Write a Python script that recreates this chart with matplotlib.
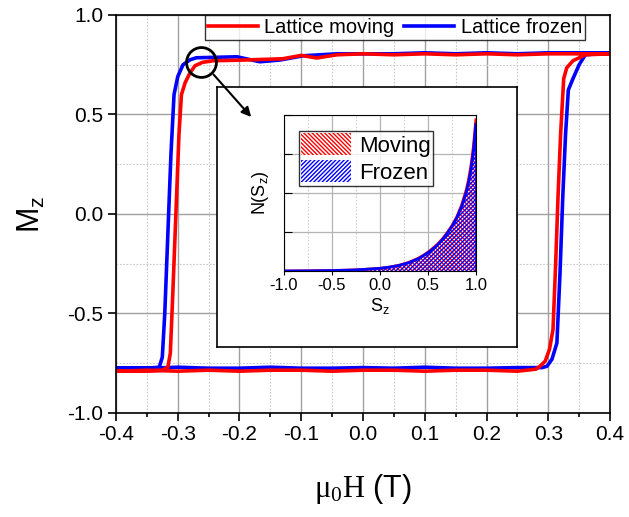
import matplotlib
matplotlib.use('Agg')
import matplotlib.pyplot as plt
import numpy as np
from matplotlib.ticker import MultipleLocator, NullFormatter
from matplotlib.patches import FancyArrowPatch

plt.rcParams['font.family'] = ['Liberation Sans', 'DejaVu Sans']
plt.rcParams['mathtext.fontset'] = 'custom'
plt.rcParams['mathtext.rm'] = 'Liberation Serif'
plt.rcParams['hatch.linewidth'] = 1.0

# ---- main loop data (field in T, Mz) ----
# red: lattice moving, upper branch (field going down) then lower branch (field going up)
h_red_down = [0.40, 0.35, 0.30, 0.25, 0.20, 0.15, 0.10, 0.05, 0.00, -0.042, -0.075, -0.10,
              -0.13, -0.16, -0.20, -0.243, -0.26, -0.272, -0.280, -0.288, -0.294, -0.298,
              -0.303, -0.308, -0.312, -0.316, -0.325, -0.35, -0.40]
m_red_down = [0.805, 0.805, 0.805, 0.80, 0.805, 0.80, 0.805, 0.80, 0.805, 0.80, 0.784, 0.797,
              0.78, 0.777, 0.773, 0.77, 0.762, 0.745, 0.71, 0.66, 0.60, 0.40,
              0.0, -0.40, -0.70, -0.77, -0.785, -0.79, -0.79]
h_red_up = [-0.40, -0.35, -0.30, -0.25, -0.20, -0.15, -0.10, -0.05, 0.00, 0.05, 0.10, 0.15,
            0.20, 0.25, 0.28, 0.2866, 0.295, 0.302, 0.3077, 0.312, 0.3158, 0.320, 0.325,
            0.330, 0.34, 0.36, 0.40]
m_red_up = [-0.79, -0.785, -0.79, -0.785, -0.79, -0.785, -0.785, -0.79, -0.785, -0.785, -0.79,
            -0.785, -0.785, -0.79, -0.78, -0.765, -0.74, -0.68, -0.58, -0.25, 0.085, 0.40, 0.68,
            0.735, 0.77, 0.80, 0.805]

# blue: lattice frozen
h_blue_down = [0.40, 0.35, 0.30, 0.25, 0.20, 0.15, 0.10, 0.05, 0.00, -0.042, -0.097, -0.134,
               -0.167, -0.204, -0.243, -0.27, -0.28, -0.2915, -0.300, -0.306, -0.311, -0.316,
               -0.321, -0.325, -0.330, -0.35, -0.40]
m_blue_down = [0.81, 0.81, 0.81, 0.805, 0.81, 0.805, 0.81, 0.805, 0.805, 0.805, 0.795, 0.774,
               0.765, 0.79, 0.787, 0.785, 0.775, 0.75, 0.69, 0.60, 0.30, -0.10,
               -0.50, -0.72, -0.77, -0.775, -0.775]
h_blue_up = [-0.40, -0.35, -0.30, -0.25, -0.20, -0.15, -0.10, -0.05, 0.00, 0.05, 0.10, 0.15,
             0.20, 0.25, 0.29, 0.298, 0.306, 0.314, 0.319, 0.3235, 0.328, 0.3325, 0.34,
             0.35, 0.36, 0.40]
m_blue_up = [-0.775, -0.775, -0.77, -0.775, -0.775, -0.77, -0.775, -0.775, -0.772, -0.775, -0.77,
             -0.775, -0.775, -0.772, -0.772, -0.765, -0.73, -0.648, -0.30, 0.085, 0.40, 0.623,
             0.68, 0.75, 0.80, 0.81]

# ---- inset: distribution of S_z ----
s_z = [-1.0, -0.75, -0.5, -0.25, 0.0, 0.1, 0.2, 0.3, 0.4, 0.45, 0.5, 0.55, 0.6, 0.65, 0.7,
       0.75, 0.8, 0.85, 0.9, 0.925, 0.95, 0.975, 1.0]
n_moving = [0.0, 0.001, 0.003, 0.007, 0.017, 0.025, 0.037, 0.055, 0.082, 0.10, 0.12, 0.145,
            0.172, 0.205, 0.245, 0.29, 0.345, 0.42, 0.52, 0.59, 0.68, 0.80, 0.97]
n_frozen = [0.0, 0.001, 0.003, 0.007, 0.017, 0.025, 0.036, 0.053, 0.079, 0.097, 0.117, 0.14,
            0.167, 0.20, 0.24, 0.285, 0.34, 0.41, 0.505, 0.57, 0.655, 0.77, 0.94]

fig = plt.figure(figsize=(6.29, 5.17), dpi=100)
ax = fig.add_axes([0.1844, 0.2012, 0.7854, 0.7698])

lb, = ax.plot(h_blue_down + h_blue_up, m_blue_down + m_blue_up, color='#0000ff', lw=2.6,
              label='Lattice frozen', solid_joinstyle='round')
lr, = ax.plot(h_red_down + h_red_up, m_red_down + m_red_up, color='#ff0000', lw=2.6,
              label='Lattice moving', solid_joinstyle='round')

ax.set_xlim(-0.4, 0.4)
ax.set_ylim(-1.0, 1.0)
ax.xaxis.set_major_locator(MultipleLocator(0.1))
ax.xaxis.set_minor_locator(MultipleLocator(0.05))
ax.yaxis.set_major_locator(MultipleLocator(0.5))
ax.yaxis.set_minor_locator(MultipleLocator(0.25))
ax.xaxis.set_major_formatter(matplotlib.ticker.FormatStrFormatter('%.1f'))
ax.yaxis.set_major_formatter(matplotlib.ticker.FormatStrFormatter('%.1f'))
ax.tick_params(which='major', direction='out', length=6, width=1.2, labelsize=15, pad=3)
ax.tick_params(axis='x', which='minor', direction='out', length=3, width=1.2)
ax.tick_params(axis='y', which='minor', length=0)
ax.grid(which='major', color='#a0a0a0', lw=1.0, ls='-')
ax.grid(which='minor', color='#c8c8c8', lw=0.8, ls=(0, (1.5, 1.5)))
ax.set_axisbelow(True)
for sp in ax.spines.values():
    sp.set_linewidth(1.2)

ax.set_xlabel(r'$\mathrm{μ_0H}$ (T)', fontsize=22, labelpad=20)
ax.set_ylabel(r'M$_\mathregular{z}$', fontsize=22, labelpad=15)

leg = ax.legend(handles=[lr, lb], loc='upper right', bbox_to_anchor=(0.949, 1.0), ncol=2,
                fontsize=14.5, frameon=True, fancybox=False, edgecolor='black',
                borderaxespad=0, borderpad=0.15, handlelength=2.5, handletextpad=0.3,
                columnspacing=0.5)
leg.get_frame().set_linewidth(1.0)

# circle marking the zoomed corner
ax.plot([-0.2623], [0.764], 'o', ms=21.5, mfc='none', mec='black', mew=2.0, zorder=5)

# inset frame
box = fig.add_axes([0.345, 0.3288, 0.477, 0.503])
box.set_xticks([])
box.set_yticks([])
box.set_facecolor('white')
for sp in box.spines.values():
    sp.set_linewidth(1.2)

# arrow drawn above the inset frame
arrow = FancyArrowPatch((-0.2449, 0.711), (-0.1781, 0.477), transform=ax.transData,
                        arrowstyle='-|>', color='black', lw=1.5, mutation_scale=14, zorder=10)
fig.add_artist(arrow)

ins = fig.add_axes([0.4515, 0.4758, 0.305, 0.3017])
ins.fill_between(s_z, n_moving, 0, facecolor='none', edgecolor='#ff0000',
                 hatch='\\\\\\\\\\\\\\\\', lw=0, label='Moving')
ins.fill_between(s_z, n_frozen, 0, facecolor='none', edgecolor='#0000ff',
                 hatch='////////', lw=0, label='Frozen')
ins.plot(s_z, n_moving, color='#ff0000', lw=2)
ins.plot(s_z, n_frozen, color='#0000ff', lw=2)
ins.plot([1.0, 1.0], [0, n_frozen[-1]], color='#0000ff', lw=2)
ins.set_xlim(-1.0, 1.0)
ins.set_ylim(0, 1.0)
ins.xaxis.set_major_locator(MultipleLocator(0.5))
ins.xaxis.set_minor_locator(MultipleLocator(0.25))
ins.yaxis.set_major_locator(MultipleLocator(0.25))
ins.xaxis.set_major_formatter(matplotlib.ticker.FormatStrFormatter('%.1f'))
ins.yaxis.set_major_formatter(NullFormatter())
ins.tick_params(axis='x', which='major', direction='out', length=3, labelsize=12, pad=2)
ins.tick_params(axis='x', which='minor', length=0)
ins.tick_params(axis='y', which='major', direction='in', length=6)
ins.grid(which='major', color='#b4b4b4', lw=0.9, ls='-')
ins.grid(which='minor', axis='x', color='#d0d0d0', lw=0.8, ls=(0, (1.5, 1.5)))
ins.set_axisbelow(True)
ins.set_xlabel(r'S$_\mathregular{z}$', fontsize=13, labelpad=2)
ins.set_ylabel(r'N(S$_\mathregular{z}$)', fontsize=13, labelpad=6)
ileg = ins.legend(loc='upper left', bbox_to_anchor=(0.078, 0.897), fontsize=16, frameon=True,
                  fancybox=False, edgecolor='black', borderaxespad=0, borderpad=0.1,
                  handlelength=2.25, handleheight=1.15, handletextpad=0.35, labelspacing=0.15)
ileg.get_frame().set_linewidth(1.0)

fig.savefig('out.png', dpi=100)
